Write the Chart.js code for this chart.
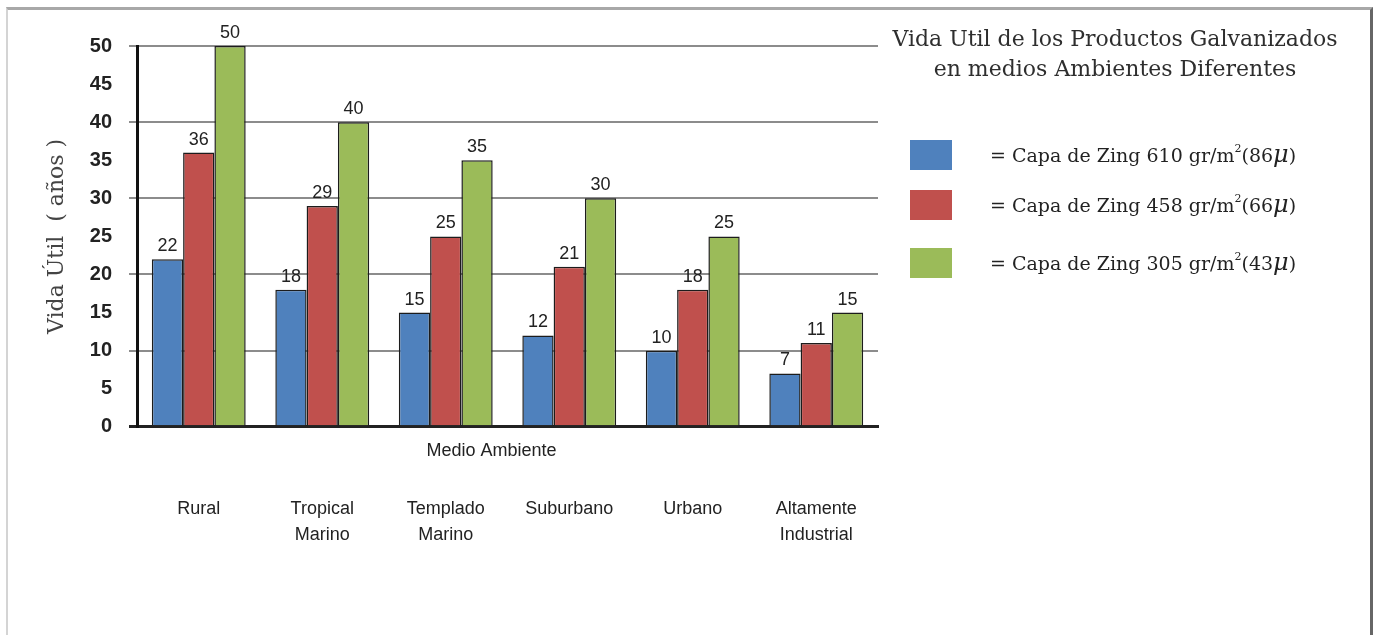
<!DOCTYPE html>
<html>
<head>
<meta charset="utf-8">
<script src="https://cdn.jsdelivr.net/npm/chart.js@4"></script>
<style>
  body { margin: 0; background: #fff; }
  #wrap { position: relative; width: 1376px; height: 635px; overflow: hidden; }
  #myChart { position: absolute; left: 0; top: 0; }
  #frame {
    position: absolute; left: 6px; top: 7px; width: 1362px; height: 640px;
    border-top: 3px solid #a8a8a8; border-left: 2px solid #d4d4d4; border-right: 3px solid #666;
  }
  #side { position: absolute; left: 870px; top: 0; width: 500px; font-family: "DejaVu Serif", serif; color: #2e2e2e; }
  #side h1 { position: absolute; left: 0; top: 24px; width: 490px; margin: 0; text-align: center;
    font-size: 22px; font-weight: normal; line-height: 30px; }
  .item { position: absolute; left: 40px; height: 30px; }
  .box { position: absolute; left: 0; top: 0; width: 42px; height: 30px; }
  .txt { position: absolute; left: 80px; top: 0px; white-space: nowrap; font-size: 19px; color: #222; }
  .txt sup { font-size: 11px; vertical-align: 10px; }
  .txt i { font-family: "DejaVu Serif", serif; font-size: 24px; }
</style>
</head>
<body>
<div id="wrap">
  <canvas id="myChart" width="1376" height="635"></canvas>
  <div id="side">
    <h1>Vida Util de los Productos Galvanizados<br>en medios Ambientes Diferentes</h1>
    <div id="legend"></div>
  </div>
  <div id="frame"></div>
</div>
<script>
const labels = [
  'Rural',
  ['Tropical', 'Marino'],
  ['Templado', 'Marino'],
  'Suburbano',
  'Urbano',
  ['Altamente', 'Industrial']
];

const capa610 = [22, 18, 15, 12, 10, 7];
const capa458 = [36, 29, 25, 21, 18, 11];
const capa305 = [50, 40, 35, 30, 25, 15];

const yTicks = [0, 5, 10, 15, 20, 25, 30, 35, 40, 45, 50];

const seriesNames = [
  ['610', '86'],
  ['458', '66'],
  ['305', '43']
];
const seriesColors = ['#4f81bd', '#c0504d', '#9bbb59'];

const data = {
  labels: labels,
  datasets: [capa610, capa458, capa305].map((vals, i) => ({
    label: 'Capa de Zing ' + seriesNames[i][0] + ' gr/m2 (' + seriesNames[i][1] + 'μ)',
    data: vals,
    backgroundColor: seriesColors[i],
    borderColor: '#1c1c1c',
    borderWidth: 1.5,
    barPercentage: 1.0,
    categoryPercentage: 0.76
  }))
};

// numbers on top of the bars
const barValues = {
  id: 'barValues',
  afterDatasetsDraw(chart) {
    const ctx = chart.ctx;
    ctx.save();
    ctx.font = '18px "Liberation Sans", Arial, sans-serif';
    ctx.fillStyle = '#222';
    ctx.textAlign = 'center';
    ctx.textBaseline = 'bottom';
    chart.data.datasets.forEach((ds, i) => {
      chart.getDatasetMeta(i).data.forEach((bar, j) => {
        ctx.fillText(ds.data[j], bar.x, bar.y - 4);
      });
    });
    ctx.restore();
  }
};

// "Medio Ambiente" sits between the axis and the category names
const xTitle = {
  id: 'xTitle',
  afterDraw(chart) {
    const ctx = chart.ctx;
    const area = chart.chartArea;
    ctx.save();
    ctx.font = '18px "Liberation Sans", Arial, sans-serif';
    ctx.fillStyle = '#222';
    ctx.textAlign = 'center';
    ctx.textBaseline = 'middle';
    ctx.fillText('Medio Ambiente', (area.left + area.right) / 2 - 16, area.bottom + 24);
    ctx.restore();
  }
};

const config = {
  type: 'bar',
  data: data,
  plugins: [barValues, xTitle],
  options: {
    responsive: false,
    animation: false,
    layout: {
      padding: { top: 46, left: 20, right: 498, bottom: 18 }
    },
    plugins: {
      legend: { display: false },
      tooltip: { enabled: false }
    },
    scales: {
      x: {
        grid: { display: false, drawTicks: false },
        border: { display: true, color: '#222', width: 3 },
        ticks: {
          padding: 69,
          color: '#222',
          maxRotation: 0,
          font: { family: '"Liberation Sans", Arial, sans-serif', size: 18, lineHeight: 1.45 }
        }
      },
      y: {
        min: 0,
        max: 50,
        afterBuildTicks(scale) {
          scale.ticks = yTicks.map(v => ({ value: v }));
        },
        afterFit(scale) {
          scale.width = 117;
        },
        grid: {
          tickLength: 8,
          color(ctx) {
            const v = ctx.tick.value;
            if (v === 0) return '#222';
            return v % 10 === 0 ? '#8c8c8c' : 'rgba(0,0,0,0)';
          },
          lineWidth(ctx) {
            return ctx.tick.value === 0 ? 3 : 2;
          }
        },
        border: { display: true, color: '#111', width: 3 },
        ticks: {
          padding: 17,
          color: '#222',
          font: { family: '"Liberation Sans", Arial, sans-serif', size: 20, weight: 'bold' }
        },
        title: {
          display: true,
          text: 'Vida Útil  ( años )',
          color: '#444',
          padding: { top: 24, bottom: 0 },
          font: { family: '"DejaVu Serif", serif', size: 22 }
        }
      }
    }
  }
};

const myChart = new Chart(document.getElementById('myChart'), config);

// legend on the right, built from the dataset colours
const legendTops = [140, 190, 248];
const legendBox = document.getElementById('legend');
seriesNames.forEach((s, i) => {
  const item = document.createElement('div');
  item.className = 'item';
  item.style.top = legendTops[i] + 'px';
  item.innerHTML = '<div class="box" style="background:' + myChart.data.datasets[i].backgroundColor + '"></div>' +
    '<div class="txt">= Capa de Zing ' + s[0] + ' gr/m<sup>2</sup>(' + s[1] + '<i>μ</i>)</div>';
  legendBox.appendChild(item);
});
</script>
</body>
</html>
